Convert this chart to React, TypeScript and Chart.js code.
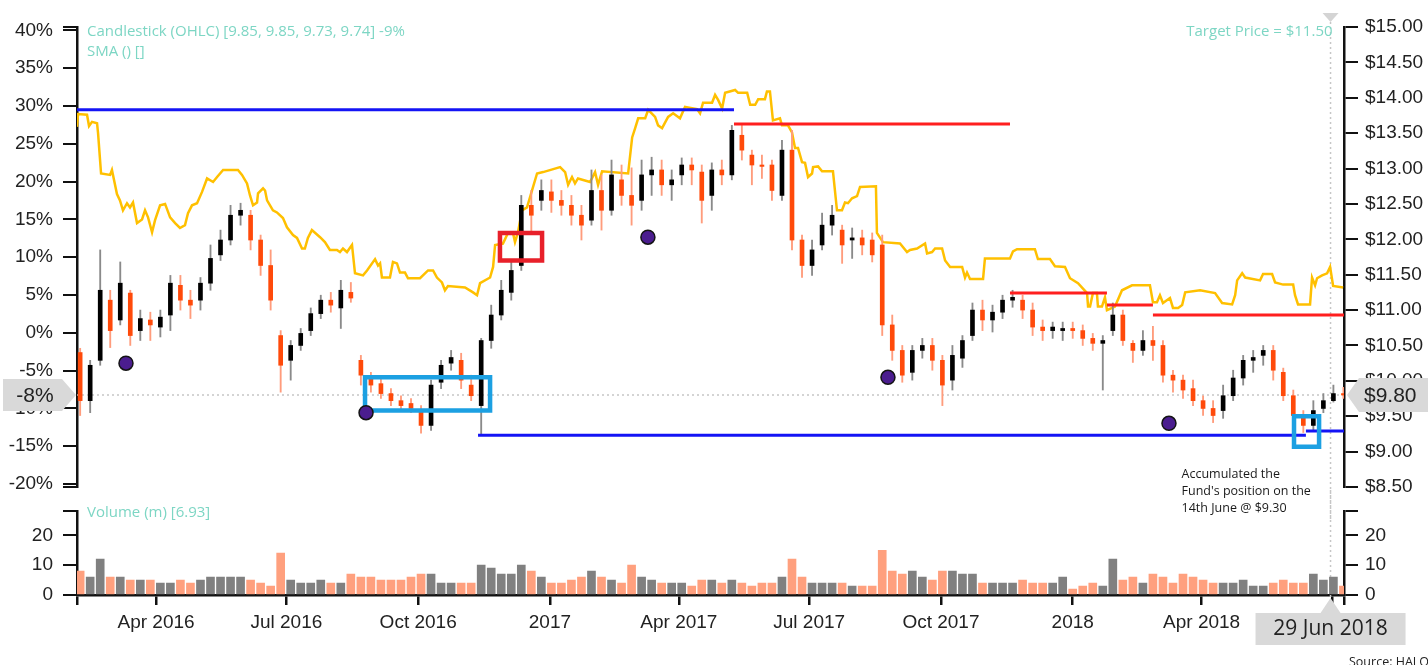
import React, { useEffect, useRef } from "react";
import { Chart, registerables } from "chart.js";

Chart.register(...registerables);

// x values are calendar days counted from 1 Jan 2016
const X_MIN = 35.8; // ~5 Feb 2016
const X_MAX = 920.4; // ~9 Jul 2018

// weekly candles (mid-week day)
const weekDays = [
  38, 45, 52, 59, 66, 73, 80, 87, 94, 101, 108, 115, 122, 129, 136, 143, 150, 157, 164, 171,
  178, 185, 192, 199, 206, 213, 220, 227, 234, 241, 248, 255, 262, 269, 276, 283, 290, 297, 304, 311,
  318, 325, 332, 339, 346, 353, 360, 367, 374, 381, 388, 395, 402, 409, 416, 423, 430, 437, 444, 451,
  458, 465, 472, 479, 486, 493, 500, 507, 514, 521, 528, 535, 542, 549, 556, 563, 570, 577, 584, 591,
  598, 605, 612, 619, 626, 633, 640, 647, 654, 661, 668, 675, 682, 689, 696, 703, 710, 717, 724, 731,
  738, 745, 752, 759, 766, 773, 780, 787, 794, 801, 808, 815, 822, 829, 836, 843, 850, 857, 864, 871,
  878, 885, 892, 899, 906, 913, 920,
];

const opens = [
  10.40, 9.72, 10.29, 11.14, 10.86, 11.24, 10.71, 10.86, 10.76, 10.93,
  11.35, 11.14, 11.14, 11.38, 11.78, 11.99, 12.34, 12.34, 11.99, 11.63,
  10.64, 10.29, 10.50, 10.71, 10.95, 11.14, 11.03, 11.25, 10.29, 10.04,
  9.96, 9.82, 9.72, 9.68, 9.58, 9.37, 9.98, 10.25, 10.29, 9.94,
  9.65, 10.57, 10.93, 11.25, 11.63, 12.48, 12.55, 12.67, 12.55, 12.48,
  12.34, 12.27, 12.69, 12.41, 12.84, 12.62, 12.55, 12.91, 12.98, 12.77,
  12.91, 13.05, 12.95, 12.62, 12.98, 12.91, 13.47, 13.19, 13.05, 13.05,
  12.62, 13.26, 11.99, 11.63, 11.92, 12.20, 12.13, 11.99, 12.02, 11.99,
  11.92, 10.79, 10.43, 10.12, 10.43, 10.50, 10.29, 10.01, 10.32, 10.64,
  11.00, 10.86, 10.97, 11.14, 11.14, 11.00, 10.76, 10.71, 10.71, 10.74,
  10.71, 10.60, 10.53, 10.71, 10.93, 10.53, 10.43, 10.57, 10.50, 10.08,
  10.01, 9.89, 9.72, 9.61, 9.58, 9.79, 10.04, 10.29, 10.36, 10.43,
  10.12, 9.79, 9.51, 9.37, 9.61, 9.72, 9.82,
];

const highs = [
  10.46, 10.29, 11.85, 11.28, 11.68, 11.28, 11.00, 10.97, 11.00, 11.49,
  11.49, 11.28, 11.46, 11.92, 12.13, 12.48, 12.51, 12.41, 12.06, 11.85,
  10.71, 10.57, 10.74, 11.03, 11.21, 11.25, 11.42, 11.39, 10.36, 10.12,
  10.04, 9.89, 9.79, 9.75, 9.65, 10.01, 10.29, 10.43, 10.39, 10.08,
  10.60, 11.07, 11.42, 11.70, 12.62, 12.69, 12.84, 12.84, 12.69, 12.62,
  12.48, 12.98, 12.91, 13.12, 13.05, 13.01, 13.12, 13.16, 13.12, 12.98,
  13.15, 13.15, 13.05, 13.08, 13.12, 13.61, 13.61, 13.26, 13.19, 13.12,
  13.40, 13.54, 12.06, 11.99, 12.37, 12.48, 12.20, 12.16, 12.13, 12.09,
  12.06, 10.93, 10.50, 10.50, 10.60, 10.60, 10.36, 10.50, 10.64, 11.10,
  11.14, 11.07, 11.21, 11.28, 11.21, 11.10, 10.86, 10.83, 10.83, 10.83,
  10.79, 10.67, 10.64, 11.10, 11.00, 10.57, 10.71, 10.77, 10.57, 10.15,
  10.08, 10.01, 9.79, 9.72, 9.94, 10.15, 10.36, 10.43, 10.50, 10.50,
  10.18, 9.87, 9.58, 9.72, 9.82, 9.94, 9.91,
];

const lows = [
  9.51, 9.55, 10.22, 10.47, 10.79, 10.50, 10.57, 10.57, 10.62, 10.71,
  11.00, 10.88, 11.00, 11.28, 11.70, 11.92, 12.20, 11.85, 11.49, 11.00,
  9.84, 10.01, 10.43, 10.64, 10.88, 10.97, 10.74, 11.11, 9.94, 9.84,
  9.75, 9.65, 9.58, 9.55, 9.26, 9.30, 9.89, 10.15, 9.89, 9.72,
  9.23, 10.46, 10.86, 11.14, 11.56, 12.10, 12.41, 12.38, 12.34, 12.20,
  11.99, 12.20, 12.13, 12.34, 12.48, 12.20, 12.41, 12.62, 12.62, 12.55,
  12.77, 12.77, 12.23, 12.41, 12.77, 12.84, 13.12, 12.77, 12.86, 12.55,
  12.55, 11.85, 11.46, 11.49, 11.85, 12.06, 11.66, 11.73, 11.78, 11.68,
  10.64, 10.29, 9.98, 10.01, 10.32, 10.15, 9.65, 9.87, 10.19, 10.57,
  10.71, 10.69, 10.88, 11.04, 10.88, 10.64, 10.57, 10.60, 10.57, 10.60,
  10.50, 10.43, 9.87, 10.64, 10.50, 10.26, 10.36, 10.29, 9.98, 9.84,
  9.75, 9.65, 9.51, 9.41, 9.47, 9.72, 9.94, 10.12, 10.22, 10.01,
  9.72, 9.41, 9.27, 9.30, 9.55, 9.70, 9.75,
];

const closes = [
  9.72, 10.22, 11.28, 10.71, 11.38, 10.64, 10.88, 10.79, 10.90, 11.38,
  11.14, 11.07, 11.38, 11.73, 11.99, 12.34, 12.41, 11.99, 11.63, 11.14,
  10.22, 10.50, 10.67, 10.95, 11.14, 11.07, 11.28, 11.17, 10.08, 9.94,
  9.82, 9.72, 9.65, 9.61, 9.37, 9.94, 10.22, 10.33, 10.01, 9.79,
  10.57, 10.93, 11.28, 11.56, 12.48, 12.34, 12.69, 12.55, 12.48, 12.34,
  12.20, 12.69, 12.41, 12.91, 12.62, 12.48, 12.91, 12.98, 12.77, 12.84,
  13.05, 12.98, 12.55, 12.98, 12.91, 13.54, 13.26, 13.05, 13.03, 12.69,
  13.26, 11.99, 11.63, 11.85, 12.20, 12.34, 11.92, 12.02, 11.92, 11.78,
  10.79, 10.43, 10.08, 10.43, 10.50, 10.29, 9.94, 10.36, 10.57, 11.00,
  10.86, 10.97, 11.14, 11.18, 11.00, 10.76, 10.71, 10.76, 10.74, 10.71,
  10.60, 10.53, 10.57, 10.93, 10.57, 10.43, 10.57, 10.50, 10.08, 10.01,
  9.87, 9.72, 9.61, 9.51, 9.79, 10.04, 10.29, 10.33, 10.43, 10.15,
  9.79, 9.51, 9.37, 9.58, 9.72, 9.82, 9.80,
];

// volume, millions
const volumes = [
  8, 6, 12, 6, 6, 5, 5, 5, 4, 4,
  5, 4, 5, 6, 6, 6, 6, 5, 4, 3,
  14, 5, 4, 4, 5, 4, 4, 7, 6, 6,
  5, 5, 5, 6, 7, 7, 4, 4, 4, 4,
  10, 9, 7, 7, 10, 8, 6, 4, 4, 5,
  6, 8, 6, 5, 4, 10, 6, 5, 4, 4,
  4, 3, 5, 5, 4, 5, 4, 3, 4, 4,
  6, 12, 6, 4, 4, 4, 4, 3, 3, 3,
  15, 8, 7, 8, 6, 5, 8, 8, 7, 7,
  4, 4, 4, 4, 5, 4, 4, 4, 6, 2,
  3, 4, 3, 12, 5, 6, 4, 7, 6, 4,
  7, 6, 5, 4, 4, 4, 5, 3, 3, 4,
  5, 4, 4, 7, 5, 6, 3,
];

// target price history (yellow line)
const targetDays = [
  35.8, 36.5, 42.8, 44.2, 46.3, 49.8, 50.5, 52.6, 58.9, 60.2,
  63.7, 65.8, 67.9, 70.7, 72.8, 74.9, 77.7, 81.2, 83.3, 85.4,
  88.2, 90.3, 93.8, 97.3, 100.8, 104.3, 107.7, 111.2, 113.3, 116.1,
  119.6, 123.1, 126.6, 130.8, 133.6, 137.8, 144.7, 148.2, 151.0, 154.5,
  156.6, 158.7, 161.5, 162.2, 165.7, 167.1, 168.5, 172.6, 175.4, 179.6,
  182.4, 186.6, 189.4, 192.9, 194.9, 197.0, 199.8, 205.5, 208.9, 212.4,
  217.3, 219.4, 221.5, 224.3, 227.8, 229.9, 235.5, 238.3, 243.9, 246.0,
  247.4, 248.7, 254.3, 256.4, 259.2, 261.3, 264.8, 266.9, 275.3, 280.9,
  284.4, 287.1, 290.6, 292.7, 294.8, 306.7, 312.3, 315.1, 317.2, 324.2,
  326.3, 327.7, 333.2, 336.7, 340.2, 341.6, 343.7, 346.5, 350.0, 353.5,
  357.0, 361.2, 373.1, 376.6, 378.7, 381.4, 383.5, 385.6, 394.0, 397.5,
  399.6, 402.4, 420.6, 423.4, 425.5, 427.6, 432.5, 434.6, 439.4, 441.5,
  444.3, 448.5, 452.0, 456.8, 460.3, 468.7, 470.8, 472.9, 479.2, 481.3,
  483.4, 486.2, 488.3, 495.3, 497.4, 503.7, 505.8, 509.3, 511.4, 516.1,
  517.5, 519.6, 521.7, 526.6, 528.0, 532.2, 535.0, 537.1, 539.2, 542.0,
  544.1, 546.2, 549.0, 549.7, 553.2, 556.0, 563.6, 566.4, 569.9, 572.0,
  574.1, 576.9, 580.4, 582.5, 593.6, 594.3, 598.5, 610.4, 615.3, 617.4,
  622.3, 627.9, 629.3, 632.8, 634.9, 639.8, 641.9, 645.4, 653.8, 655.8,
  657.2, 659.3, 668.4, 669.7, 680.2, 687.2, 689.3, 692.1, 704.6, 706.7,
  715.1, 718.6, 725.6, 729.1, 734.7, 741.0, 741.7, 743.1, 745.1, 747.9,
  748.6, 751.4, 753.5, 754.9, 760.5, 765.4, 772.4, 784.9, 787.0, 789.8,
  791.9, 794.0, 798.9, 801.0, 804.6, 807.4, 809.5, 819.9, 830.4, 835.3,
  842.3, 844.4, 845.8, 849.3, 851.4, 861.8, 863.9, 870.2, 872.3, 877.9,
  884.9, 886.2, 888.3, 896.7, 898.1, 900.2, 901.6, 905.1, 908.6, 910.7,
  912.8, 919.8,
];
const targetPrices = [
  13.59, 13.77, 13.76, 13.60, 13.66, 13.64, 13.50, 12.93, 12.91, 12.98,
  12.64, 12.55, 12.41, 12.51, 12.45, 12.52, 12.23, 12.28, 12.41, 12.31,
  12.10, 12.27, 12.48, 12.50, 12.31, 12.23, 12.16, 12.20, 12.37, 12.48,
  12.51, 12.67, 12.86, 12.81, 12.88, 12.98, 12.98, 12.98, 12.91, 12.79,
  12.62, 12.48, 12.52, 12.65, 12.72, 12.69, 12.55, 12.41, 12.38, 12.30,
  12.17, 12.06, 12.02, 11.87, 11.87, 12.02, 12.13, 12.03, 11.96, 11.85,
  11.85, 11.82, 11.87, 11.82, 11.92, 11.52, 11.49, 11.56, 11.72, 11.63,
  11.66, 11.46, 11.46, 11.68, 11.66, 11.53, 11.53, 11.45, 11.45, 11.56,
  11.56, 11.46, 11.39, 11.28, 11.34, 11.32, 11.25, 11.21, 11.38, 11.46,
  11.61, 11.92, 11.94, 12.09, 12.09, 11.96, 12.10, 12.41, 12.45, 12.69,
  12.93, 12.95, 13.02, 12.95, 12.77, 12.88, 12.79, 12.86, 12.81, 12.95,
  12.77, 12.96, 12.93, 13.44, 13.57, 13.71, 13.71, 13.83, 13.73, 13.61,
  13.57, 13.73, 13.78, 13.71, 13.87, 13.84, 13.78, 13.93, 13.93, 14.04,
  13.97, 13.85, 14.07, 14.11, 14.07, 14.07, 13.90, 13.90, 13.98, 13.98,
  14.09, 14.09, 13.68, 13.71, 13.61, 13.61, 13.51, 13.29, 13.29, 13.09,
  13.08, 12.88, 12.93, 13.02, 13.03, 12.96, 12.96, 12.41, 12.41, 12.52,
  12.51, 12.58, 12.61, 12.74, 12.75, 12.09, 11.96, 11.94, 11.82, 11.85,
  11.87, 11.94, 11.80, 11.82, 11.87, 11.87, 11.70, 11.61, 11.61, 11.46,
  11.53, 11.44, 11.44, 11.73, 11.73, 11.73, 11.83, 11.86, 11.86, 11.72,
  11.72, 11.62, 11.61, 11.45, 11.38, 11.24, 11.05, 11.05, 11.24, 11.24,
  11.05, 11.05, 11.18, 11.00, 11.05, 11.28, 11.35, 11.35, 11.11, 11.11,
  11.21, 11.10, 11.17, 11.03, 11.03, 11.07, 11.25, 11.28, 11.24, 11.10,
  11.08, 11.21, 11.42, 11.52, 11.46, 11.42, 11.51, 11.51, 11.39, 11.36,
  11.36, 11.21, 11.08, 11.08, 11.46, 11.35, 11.45, 11.49, 11.52, 11.61,
  11.34, 11.32,
];

// purple markers
const dotDays = [70, 237.6, 434.4, 602, 798.2];
const dotPrices = [10.25, 9.55, 12.03, 10.05, 9.4];

// support / resistance levels
const levelFrom = [35.8, 494.5, 687.2, 754.9, 787.0, 315.8, 893.8];
const levelTo = [494.5, 687.2, 754.9, 787.0, 920.4, 893.8, 920.4];
const levelPrice = [13.83, 13.63, 11.24, 11.07, 10.93, 9.23, 9.29];
const levelColor = ["#1414f5", "#ff1f1f", "#ff1f1f", "#ff1f1f", "#ff1f1f", "#1414f5", "#1414f5"];

// highlight boxes
const boxFrom = [236.9, 331.1, 885.5];
const boxTo = [324.2, 360.5, 903.0];
const boxLow = [9.58, 11.7, 9.07];
const boxHigh = [10.05, 12.09, 9.5];
const boxColor = ["#1ca0e2", "#e8202a", "#1ca0e2"];

// axes
const monthTickDays = [91, 182, 274, 366, 456, 547, 639, 731, 821, 912];
const monthTickLabels = ["Apr 2016", "Jul 2016", "Oct 2016", "2017", "Apr 2017", "Jul 2017", "Oct 2017", "2018", "Apr 2018", "Jul 2018"];
const pctTicks = [-20, -15, -10, -5, 0, 5, 10, 15, 20, 25, 30, 35, 40];
const priceTicks = [8.5, 9, 9.5, 10, 10.5, 11, 11.5, 12, 12.5, 13, 13.5, 14, 14.5, 15];
const volumeTicks = [0, 10, 20];
const VOLUME_MAX = 28;
const PRICE_MIN = 8.5;
const PRICE_MAX = 15;
const BASE_PRICE = 10.68;

// hover / annotation values
const LAST_PRICE = 9.8;
const HOVER_DAY = 911;
const HOVER_LABEL = "29 Jun 2018";
const HOVER_OHLC = [9.85, 9.85, 9.73, 9.74];
const HOVER_VOLUME = 6.93;
const TARGET_PRICE = 11.5;
const NOTE_LINES = ["Accumulated the", "Fund's position on the", "14th June @ $9.30"];
const NOTE_DAY = 807;
const NOTE_PRICE = 8.68;
const SOURCE_TEXT = "Source: HALO";

const TEAL = "#7dd6c4";
const AXIS_FONT = { family: "'Liberation Sans', Arial, sans-serif", size: 19 };
const TEXT_FONT = "'Open Sans', 'Noto Sans', sans-serif";
const UP_BODY = "#000000";
const DOWN_BODY = "#ff4a0a";
const UP_WICK = "#8a8a8a";
const DOWN_WICK = "#ff9c7c";
const UP_VOL = "#808080";
const DOWN_VOL = "#ffa07e";

const isUp = (i: number) => closes[i] >= opens[i];

function yAxis(position: string, min: number, max: number, values: number[], fmt: (v: number) => string, width: number, pad: number) {
  return {
    type: "linear",
    position,
    min,
    max,
    beginAtZero: false,
    afterBuildTicks: (s: any) => {
      const all = Array.from(new Set([min, ...values, max])).sort((a, b) => a - b);
      s.ticks = all.map((v) => ({ value: v }));
    },
    afterFit: (s: any) => {
      s.width = width;
    },
    ticks: {
      font: AXIS_FONT,
      color: "#222",
      padding: pad,
      autoSkip: false,
      callback: (v: number) => (values.includes(v) ? fmt(v) : ""),
    },
    grid: { display: true, drawOnChartArea: false, drawTicks: true, tickLength: 14, color: "#111", lineWidth: 2 },
    border: { display: true, color: "#111", width: 2.5 },
  };
}

function dashed(ctx: any, x1: number, y1: number, x2: number, y2: number) {
  ctx.save();
  ctx.strokeStyle = "#c6c6c6";
  ctx.lineWidth = 1.5;
  ctx.setLineDash([2, 3]);
  ctx.beginPath();
  ctx.moveTo(x1, y1);
  ctx.lineTo(x2, y2);
  ctx.stroke();
  ctx.restore();
}

const mainDecor = {
  id: "mainDecor",
  beforeDatasetsDraw(chart: any) {
    const { ctx, chartArea, scales } = chart;
    const xh = scales.x.getPixelForValue(HOVER_DAY);
    const yl = scales.yPrice.getPixelForValue(LAST_PRICE);
    dashed(ctx, chartArea.left, yl, chartArea.right, yl);
    dashed(ctx, xh, chartArea.top - 5, xh, chart.height);
  },
  afterDraw(chart: any) {
    const { ctx, chartArea, scales } = chart;
    const xh = scales.x.getPixelForValue(HOVER_DAY);
    const yl = scales.yPrice.getPixelForValue(LAST_PRICE);
    ctx.save();
    // top marker
    ctx.fillStyle = "#d4d4d4";
    ctx.beginPath();
    ctx.moveTo(xh - 8, chartArea.top - 14);
    ctx.lineTo(xh + 8, chartArea.top - 14);
    ctx.lineTo(xh, chartArea.top - 5);
    ctx.closePath();
    ctx.fill();

    // legend texts
    ctx.fillStyle = TEAL;
    ctx.font = `15px ${TEXT_FONT}`;
    ctx.textBaseline = "middle";
    ctx.textAlign = "left";
    const pct = Math.round((HOVER_OHLC[3] / BASE_PRICE - 1) * 100);
    ctx.fillText(`Candlestick (OHLC) [${HOVER_OHLC.join(", ")}] ${pct}%`, chartArea.left + 10, chartArea.top + 5);
    ctx.fillText("SMA () []", chartArea.left + 10, chartArea.top + 25);
    ctx.textAlign = "right";
    ctx.fillText(`Target Price = $${TARGET_PRICE.toFixed(2)}`, xh + 2, chartArea.top + 5);

    // note
    ctx.fillStyle = "#1a1a1a";
    ctx.font = `12.5px ${TEXT_FONT}`;
    ctx.textAlign = "left";
    const nx = scales.x.getPixelForValue(NOTE_DAY);
    const ny = scales.yPrice.getPixelForValue(NOTE_PRICE);
    NOTE_LINES.forEach((t, i) => ctx.fillText(t, nx, ny + i * 17));

    // left badge
    ctx.fillStyle = "#d9d9d9";
    const lt = chartArea.left - 1;
    ctx.beginPath();
    ctx.moveTo(3, yl - 16);
    ctx.lineTo(lt - 14, yl - 16);
    ctx.lineTo(lt, yl);
    ctx.lineTo(lt - 14, yl + 16);
    ctx.lineTo(3, yl + 16);
    ctx.closePath();
    ctx.fill();
    ctx.fillStyle = "#222";
    ctx.font = "21px 'Liberation Sans', Arial, sans-serif";
    ctx.textAlign = "center";
    const lastPct = Math.round((LAST_PRICE / BASE_PRICE - 1) * 100);
    ctx.fillText(`${lastPct}%`, 35, yl + 1);

    // right badge
    const rt = chartArea.right + 3;
    ctx.fillStyle = "#d9d9d9";
    ctx.beginPath();
    ctx.moveTo(rt, yl);
    ctx.lineTo(rt + 12, yl - 17);
    ctx.lineTo(chart.width, yl - 17);
    ctx.lineTo(chart.width, yl + 17);
    ctx.lineTo(rt + 12, yl + 17);
    ctx.closePath();
    ctx.fill();
    ctx.fillStyle = "#222";
    ctx.textAlign = "left";
    ctx.fillText(`$${LAST_PRICE.toFixed(2)}`, rt + 17, yl + 1);
    ctx.restore();
  },
};

const volDecor = {
  id: "volDecor",
  beforeDatasetsDraw(chart: any) {
    const { ctx, chartArea, scales } = chart;
    const xh = scales.x.getPixelForValue(HOVER_DAY);
    dashed(ctx, xh, 0, xh, chartArea.bottom + 3);
  },
  afterDraw(chart: any) {
    const { ctx, chartArea, scales } = chart;
    const xh = scales.x.getPixelForValue(HOVER_DAY);
    ctx.save();
    ctx.fillStyle = TEAL;
    ctx.font = `15px ${TEXT_FONT}`;
    ctx.textBaseline = "middle";
    ctx.textAlign = "left";
    ctx.fillText(`Volume (m) [${HOVER_VOLUME.toFixed(2)}]`, chartArea.left + 10, chartArea.top + 1);

    // date badge
    const b = chartArea.bottom;
    ctx.fillStyle = "#d9d9d9";
    ctx.beginPath();
    ctx.moveTo(xh, b + 3);
    ctx.lineTo(xh + 10, b + 18);
    ctx.lineTo(xh + 75, b + 18);
    ctx.lineTo(xh + 75, b + 50);
    ctx.lineTo(xh - 75, b + 50);
    ctx.lineTo(xh - 75, b + 18);
    ctx.lineTo(xh - 10, b + 18);
    ctx.closePath();
    ctx.fill();
    ctx.fillStyle = "#222";
    ctx.font = `21px ${TEXT_FONT}`;
    ctx.textAlign = "center";
    ctx.fillText(HOVER_LABEL, xh, b + 34);

    ctx.fillStyle = "#222";
    ctx.font = `12.5px ${TEXT_FONT}`;
    ctx.textAlign = "left";
    ctx.textBaseline = "top";
    ctx.fillText(SOURCE_TEXT, chart.width - 79, chart.height - 9);
    ctx.restore();
  },
};

function mainConfig(): any {
  const pctMin = (PRICE_MIN / BASE_PRICE - 1) * 100;
  const pctMax = (PRICE_MAX / BASE_PRICE - 1) * 100;
  const datasets: any[] = [];
  datasets.push({
    type: "line",
    data: dotDays.map((d, i) => ({ x: d, y: dotPrices[i] })),
    yAxisID: "yPrice",
    showLine: false,
    pointRadius: 7,
    pointBackgroundColor: "#4b1d8f",
    pointBorderColor: "#141414",
    pointBorderWidth: 1.5,
    order: 0,
  });
  boxFrom.forEach((f, i) => {
    datasets.push({
      type: "line",
      data: [
        { x: f, y: boxLow[i] },
        { x: f, y: boxHigh[i] },
        { x: boxTo[i], y: boxHigh[i] },
        { x: boxTo[i], y: boxLow[i] },
        { x: f, y: boxLow[i] },
      ],
      yAxisID: "yPrice",
      borderColor: boxColor[i],
      borderWidth: 4.5,
      borderJoinStyle: "miter",
      borderCapStyle: "square",
      pointRadius: 0,
      fill: false,
      order: 1,
    });
  });
  levelFrom.forEach((f, i) => {
    datasets.push({
      type: "line",
      data: [
        { x: f, y: levelPrice[i] },
        { x: levelTo[i], y: levelPrice[i] },
      ],
      yAxisID: "yPrice",
      borderColor: levelColor[i],
      borderWidth: 3,
      pointRadius: 0,
      fill: false,
      order: 2,
    });
  });
  datasets.push({
    type: "bar",
    data: weekDays.map((d, i) => ({ x: d, y: [opens[i], closes[i]] })),
    yAxisID: "yPrice",
    backgroundColor: weekDays.map((_, i) => (isUp(i) ? UP_BODY : DOWN_BODY)),
    barThickness: 4,
    minBarLength: 1,
    grouped: false,
    order: 3,
  });
  datasets.push({
    type: "bar",
    data: weekDays.map((d, i) => ({ x: d, y: [lows[i], highs[i]] })),
    yAxisID: "yPrice",
    backgroundColor: weekDays.map((_, i) => (isUp(i) ? UP_WICK : DOWN_WICK)),
    barThickness: 1.2,
    grouped: false,
    order: 4,
  });
  datasets.push({
    type: "line",
    data: targetDays.map((d, i) => ({ x: d, y: targetPrices[i] })),
    yAxisID: "yPrice",
    borderColor: "#ffc000",
    borderWidth: 2.5,
    pointRadius: 0,
    fill: false,
    order: 5,
  });

  return {
    type: "bar",
    data: { datasets },
    options: {
      responsive: false,
      animation: false,
      devicePixelRatio: 1,
      events: [],
      layout: { padding: { top: 27, bottom: 33, left: 0, right: 0 } },
      plugins: { legend: { display: false }, tooltip: { enabled: false } },
      scales: {
        x: { type: "linear", display: false, min: X_MIN, max: X_MAX, offset: false, grid: { offset: false } },
        yPct: yAxis("left", pctMin, pctMax, pctTicks, (v) => `${v}%`, 77, 10),
        yPrice: yAxis("right", PRICE_MIN, PRICE_MAX, priceTicks, (v) => `$${v.toFixed(2)}`, 84, 7),
      },
    },
    plugins: [mainDecor],
  };
}

function volConfig(): any {
  return {
    type: "bar",
    data: {
      datasets: [
        {
          type: "bar",
          data: weekDays.map((d, i) => ({ x: d, y: volumes[i] })),
          yAxisID: "yVolL",
          backgroundColor: weekDays.map((_, i) => (isUp(i) ? UP_VOL : DOWN_VOL)),
          barThickness: 8,
          grouped: false,
        },
      ],
    },
    options: {
      responsive: false,
      animation: false,
      devicePixelRatio: 1,
      events: [],
      layout: { padding: { top: 18, bottom: 10, left: 0, right: 0 } },
      plugins: { legend: { display: false }, tooltip: { enabled: false } },
      scales: {
        x: {
          type: "linear",
          min: X_MIN,
          max: X_MAX,
          offset: false,
          afterBuildTicks: (s: any) => {
            s.ticks = [X_MIN, ...monthTickDays, X_MAX].map((v) => ({ value: v }));
          },
          afterFit: (s: any) => {
            s.height = 60;
          },
          ticks: {
            font: AXIS_FONT,
            color: "#222",
            padding: 6,
            autoSkip: false,
            maxRotation: 0,
            callback: (v: number) => {
              const i = monthTickDays.indexOf(v);
              return i >= 0 ? monthTickLabels[i] : "";
            },
          },
          grid: { display: true, offset: false, drawOnChartArea: false, drawTicks: true, tickLength: 10, color: "#111", lineWidth: 2.5 },
          border: { display: true, color: "#111", width: 2.5 },
        },
        yVolL: yAxis("left", 0, VOLUME_MAX, volumeTicks, (v) => `${v}`, 77, 10),
        yVolR: yAxis("right", 0, VOLUME_MAX, volumeTicks, (v) => `${v}`, 84, 7),
      },
    },
    plugins: [volDecor],
  };
}

export default function App() {
  const mainRef = useRef<HTMLCanvasElement>(null);
  const volRef = useRef<HTMLCanvasElement>(null);

  useEffect(() => {
    const main = new Chart(mainRef.current as HTMLCanvasElement, mainConfig());
    const vol = new Chart(volRef.current as HTMLCanvasElement, volConfig());
    return () => {
      main.destroy();
      vol.destroy();
    };
  }, []);

  return (
    <div style={{ position: "absolute", left: 0, top: 0, width: 1428, height: 665, background: "#fff", overflow: "hidden" }}>
      <canvas ref={mainRef} width={1428} height={520} style={{ position: "absolute", left: 0, top: 0 }} />
      <canvas ref={volRef} width={1428} height={175} style={{ position: "absolute", left: 0, top: 490 }} />
    </div>
  );
}
